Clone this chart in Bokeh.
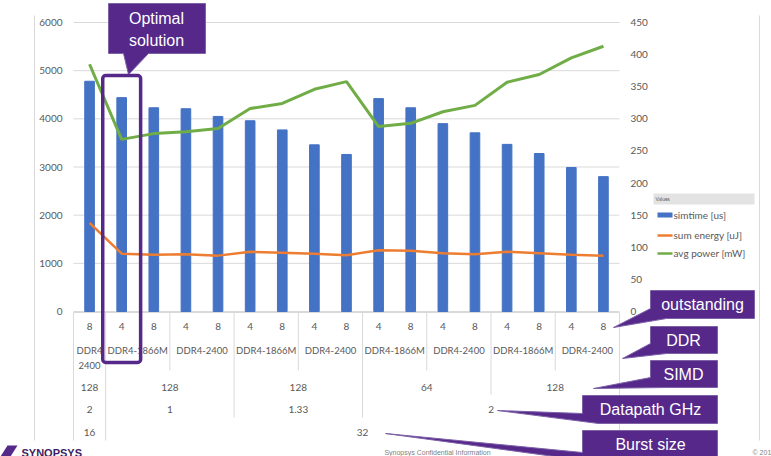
from bokeh.plotting import figure
from bokeh.models import Range1d, LinearAxis, FixedTicker, Label, PolyAnnotation, BoxAnnotation
from bokeh.embed import file_html
from bokeh.resources import INLINE

# ---------------- data ----------------
categories = list(range(1, 18))
outstanding = ["8", "4", "8", "4", "8", "4", "8", "4", "8", "4", "8", "4", "8", "4", "8", "4", "8"]
ddr = ["DDR4-2400", "DDR4-1866M", "DDR4-1866M", "DDR4-2400", "DDR4-2400",
       "DDR4-1866M", "DDR4-1866M", "DDR4-2400", "DDR4-2400",
       "DDR4-1866M", "DDR4-1866M", "DDR4-2400", "DDR4-2400",
       "DDR4-1866M", "DDR4-1866M", "DDR4-2400", "DDR4-2400"]
simd = ["128"] * 9 + ["64"] * 4 + ["128"] * 4
datapath = ["2"] + ["1"] * 4 + ["1.33"] * 4 + ["2"] * 8
burst = ["16"] + ["32"] * 16

simtime = [4780, 4440, 4230, 4210, 4050, 3960, 3770, 3460, 3260,
           4420, 4230, 3900, 3710, 3470, 3280, 2990, 2800]
sum_energy = [1840, 1200, 1180, 1190, 1160, 1240, 1220, 1200, 1170,
              1270, 1260, 1210, 1190, 1240, 1210, 1180, 1160]
avg_power = [385, 268, 277, 280, 285, 316, 324, 346, 358,
             288, 293, 311, 321, 357, 369, 395, 413]

left_ticks = [0, 1000, 2000, 3000, 4000, 5000, 6000]
right_ticks = [0, 50, 100, 150, 200, 250, 300, 350, 400, 450]
series_names = ["simtime [us]", "sum energy [uJ]", "avg power [mW]"]
level_names = ["outstanding", "DDR", "SIMD", "Datapath GHz", "Burst size"]
optimal_index = 1
legend_title = "Values"

# ---------------- layout / styles ----------------
W, H = 771, 456
PL, PR, PT, PB = 73, 619, 22, 311          # plot area in canvas pixels
BLUE, ORANGE, GREEN = "#4472C4", "#ED7D31", "#70AD47"
PURPLE = "#55288a"
GRID = "#d9d9d9"
TXT = "#595959"
FONT = "Lato"

x0d, x1d = 0.5, len(categories) + 0.5
xs_per_px = (x1d - x0d) / (PR - PL)
xr = Range1d(x0d - PL * xs_per_px, x1d + (W - PR) * xs_per_px)
ly0, ly1 = left_ticks[0], left_ticks[-1]
ly_per_px = (ly1 - ly0) / (PB - PT)
yr = Range1d(ly0 - (H - PB) * ly_per_px, ly1 + PT * ly_per_px)
ry0, ry1 = right_ticks[0], right_ticks[-1]
ry_per_px = (ry1 - ry0) / (PB - PT)
yr2 = Range1d(ry0 - (H - PB) * ry_per_px, ry1 + PT * ry_per_px)


def SX(x):
    return x


def SY(y):
    return H - y


p = figure(width=W, height=H, x_range=xr, y_range=yr,
           min_border_left=0, min_border_right=0, min_border_top=0, min_border_bottom=0,
           x_axis_location=None, y_axis_location=None,
           toolbar_location=None, output_backend="svg", title=None)
p.outline_line_color = None
p.background_fill_color = "white"
p.border_fill_color = "white"
p.xgrid.visible = False
p.ygrid.visible = False
p.extra_y_ranges = {"power": yr2}

la = LinearAxis(ticker=FixedTicker(ticks=left_ticks), fixed_location=x0d)
ra = LinearAxis(y_range_name="power", ticker=FixedTicker(ticks=right_ticks), fixed_location=x1d)
p.add_layout(la, "left")
p.add_layout(ra, "right")
for ax in (la, ra):
    ax.axis_line_color = None
    ax.major_tick_line_color = None
    ax.minor_tick_line_color = None
    ax.major_tick_out = 0
    ax.minor_tick_out = 0
    ax.major_tick_in = 0
    ax.minor_tick_in = 0
    ax.major_label_standoff = 11
    ax.major_label_text_font = FONT
    ax.major_label_text_font_size = "10px"
    ax.major_label_text_color = TXT

# grid lines at the left-axis ticks
p.segment(x0=[x0d] * len(left_ticks), x1=[x1d] * len(left_ticks), y0=left_ticks, y1=left_ticks,
          line_color=GRID, line_width=1)

p.vbar(x=categories, top=simtime, width=0.3, color=BLUE)
p.line(categories, sum_energy, color=ORANGE, line_width=2.5)
p.line(categories, avg_power, color=GREEN, line_width=3, y_range_name="power")

# ---------------- multi-level category axis ----------------
n = len(categories)
levels = [burst, datapath, simd, ddr, outstanding]  # outer -> inner
row_y = {4: 326, 3: 350, 2: 387, 1: 409, 0: 432}
row_bottom = {0: 440, 1: 417, 2: 394, 3: 370}


def keys(depth):
    return [tuple(l[i] for l in levels[:depth + 1]) for i in range(n)]


def cat_label(x, y, t, size="10px"):
    p.add_layout(Label(x=x, y=SY(y), x_units="data", y_units="screen",
                       text=t, text_align="center", text_baseline="middle",
                       text_font=FONT, text_font_size=size, text_color=TXT))


for depth in range(5):
    ks = keys(depth)
    start = 0
    for i in range(1, n + 1):
        if i == n or ks[i] != ks[start] or depth == 4:
            end = i - 1
            text = ks[start][-1]
            cx = (categories[start] + categories[end]) / 2
            if depth == 3 and end == start and "-" in text:
                for j, t in enumerate(text.split("-")):
                    cat_label(cx, row_y[depth] + 15 * j, t, "9.5px")
            elif depth == 3:
                cat_label(cx, row_y[depth], text, "9.5px")
            else:
                cat_label(cx, row_y[depth], text)
            start = i

LINE = dict(fill_alpha=0, line_color=GRID, line_width=1, line_alpha=1)


def vline_data(xd, y0, y1):
    p.add_layout(PolyAnnotation(xs=[xd, xd], ys=[SY(y0), SY(y1)], xs_units="data", ys_units="screen", **LINE))


p.add_layout(PolyAnnotation(xs=[x0d, x1d], ys=[SY(PB + 1), SY(PB + 1)], xs_units="data", ys_units="screen", **LINE))
vline_data(x0d, PB + 1, 440)
vline_data(x1d, PB + 1, 440)
for i in range(n - 1):
    for depth in range(4):
        if keys(depth)[i] != keys(depth)[i + 1]:
            vline_data(categories[i] + 0.5, PB + 1, row_bottom[depth])
            break

# chart-area borders
for x in (34, 759):
    p.add_layout(PolyAnnotation(xs=[SX(x), SX(x)], ys=[SY(15), SY(440)], xs_units="screen", ys_units="screen", **LINE))


def box_screen(l, t, r, b, **kw):
    p.add_layout(BoxAnnotation(left=SX(l), right=SX(r), top=SY(t), bottom=SY(b),
                               left_units="screen", right_units="screen",
                               top_units="screen", bottom_units="screen", **kw))


def poly_screen(pts, **kw):
    p.add_layout(PolyAnnotation(xs=[SX(x) for x, _ in pts], ys=[SY(y) for _, y in pts],
                                xs_units="screen", ys_units="screen", **kw))


def text_screen(x, y, t, size="16px", color="white", align="center", font="Liberation Sans", **kw):
    p.add_layout(Label(x=SX(x), y=SY(y), x_units="screen", y_units="screen", text=t,
                       text_align=align, text_baseline="middle", text_font=font,
                       text_font_size=size, text_color=color, **kw))


# ---------------- legend ----------------
box_screen(653, 193, 754, 204, fill_color="#e3e3e3", fill_alpha=1, line_color=None)
text_screen(655, 198.5, legend_title, size="5px", color=TXT, align="left", font=FONT)
box_screen(657, 212, 672, 217, fill_color=BLUE, fill_alpha=1, line_color=None)
for y, c in ((235, ORANGE), (253, GREEN)):
    poly_screen([(657, y), (672, y)], fill_alpha=0, line_color=c, line_width=2.5, line_alpha=1)
for y, t in zip((214, 234, 252), series_names):
    text_screen(673, y, t, size="10px", color=TXT, align="left", font=FONT)

# ---------------- callouts ----------------
ckw = dict(fill_color=PURPLE, fill_alpha=1, line_color="#7d62a8", line_width=1, line_alpha=1)
poly_screen([(108, 3), (205, 3), (205, 53), (148, 53), (128, 74), (123, 53), (108, 53)], **ckw)
text_screen(156, 18, "Optimal")
text_screen(156, 40, "solution")

p.add_layout(BoxAnnotation(left=categories[optimal_index] - 0.59, right=categories[optimal_index] + 0.59,
                           top=SY(75), bottom=SY(362), left_units="data", right_units="data",
                           top_units="screen", bottom_units="screen", fill_alpha=0,
                           line_color=PURPLE, line_width=3.5, line_alpha=1, border_radius=3))

right_boxes = [
    ((650, 290, 754, 318), (613, 327), 702),
    ((650, 326, 717, 353), (622, 358), 683),
    ((650, 360, 717, 387), (593, 388), 683),
    ((582, 395, 717, 423), (497, 410), 650),
    ((582, 430, 717, 462), (385, 433), 650),
]
for (bx0, by0, bx1, by1), (tx, ty), cx in right_boxes:
    poly_screen([(bx0, by0), (bx1, by0), (bx1, by1), (bx0 + 16, by1), (tx, ty), (bx0, by1 - 10), (bx0, by0)], **ckw)
for ((bx0, by0, bx1, by1), _, cx), name in zip(right_boxes, level_names):
    text_screen(cx, (by0 + min(by1, 458)) / 2, name)

# ---------------- footer ----------------
poly_screen([(0, 456), (7, 445), (17, 445), (10, 456)], fill_color=PURPLE, fill_alpha=1, line_color=None)
p.add_layout(Label(x=SX(21), y=SY(458), x_units="screen", y_units="screen", text="SYNOPSYS",
                   text_font="Liberation Sans", text_font_style="bold", text_font_size="11px",
                   text_color="#3c1e64", text_baseline="bottom"))
text_screen(437, 452, "Synopsys Confidential Information", size="7px", color="#7f7f7f")
text_screen(752, 452, "© 2019", size="7px", color="#7f7f7f", align="left")

open("out.html", "w").write(file_html(p, INLINE))
